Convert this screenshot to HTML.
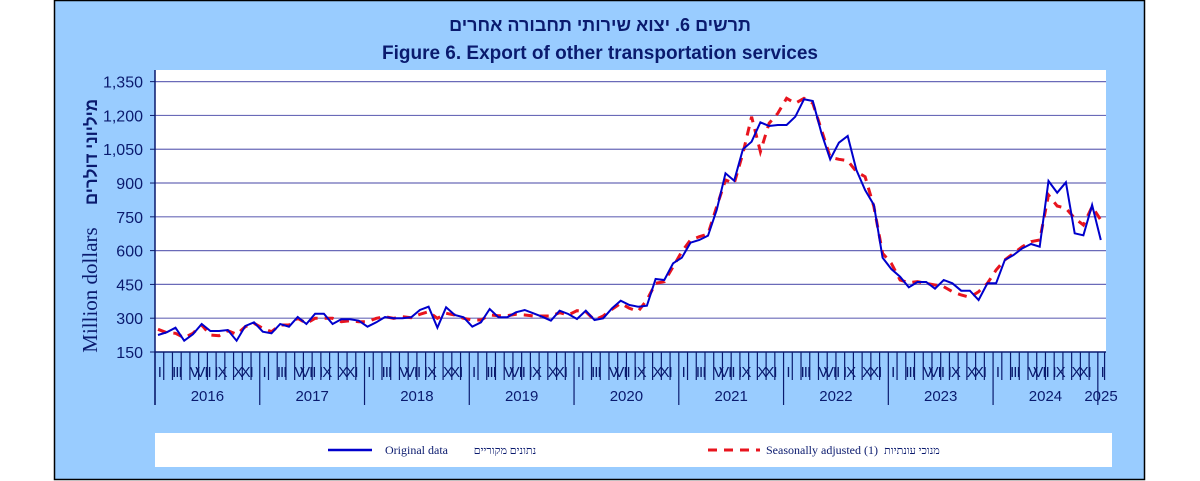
<!DOCTYPE html>
<html><head><meta charset="utf-8">
<style>
html,body{margin:0;padding:0;background:#fff;width:1200px;height:481px;overflow:hidden}
svg{display:block}
</style></head><body>
<svg id="s" width="1200" height="481" xmlns="http://www.w3.org/2000/svg">
<rect x="54.5" y="0.5" width="1090" height="479" fill="#99ccff" stroke="#000" stroke-width="1.5"/>
<text x="600" y="31" text-anchor="middle" font-family="Liberation Sans, sans-serif" font-weight="bold" font-size="18" fill="#0a1a6e">תרשים 6. יצוא שירותי תחבורה אחרים</text>
<text x="600" y="59" text-anchor="middle" font-family="Liberation Sans, sans-serif" font-weight="bold" font-size="19" fill="#0a1a6e">Figure 6. Export of other transportation services</text>
<rect x="155" y="70" width="951" height="282" fill="#fff"/>
<rect x="155" y="433" width="957" height="34" fill="#fff"/>
<g id="g"></g>
<text transform="translate(97,290) rotate(-90)" text-anchor="middle" font-family="Liberation Serif, serif" font-size="21" fill="#0a1a6e">Million dollars</text>
<text transform="translate(97,152) rotate(-90)" text-anchor="middle" font-family="Liberation Sans, sans-serif" font-weight="bold" font-size="17" fill="#0a1a6e">מיליוני דולרים</text>
<line x1="328" y1="450" x2="372" y2="450" stroke="#0000cc" stroke-width="2.5"/>
<text x="385" y="454" font-family="Liberation Serif, serif" font-size="12" fill="#0a1a6e">Original data</text>
<text x="505" y="454" font-family="Liberation Serif, serif" font-size="11" fill="#0a1a6e" text-anchor="middle">נתונים מקוריים</text>
<line x1="708" y1="450" x2="760" y2="450" stroke="#e8141e" stroke-width="3" stroke-dasharray="9,7"/>
<text x="766" y="454" font-family="Liberation Serif, serif" font-size="12" fill="#0a1a6e">Seasonally adjusted (1)</text>
<text x="912" y="454" font-family="Liberation Serif, serif" font-size="11" fill="#0a1a6e" text-anchor="middle">מנוכי עונתיות</text>
</svg>
<script>
var g=document.getElementById('g'),h='';
var ticks=[1350,1200,1050,900,750,600,450,300,150];
ticks.forEach(function(v){var y=352-(v-150)*0.2253;
 if(v>150)h+='<line x1="155" y1="'+y+'" x2="1106" y2="'+y+'" stroke="#6a6ab8" stroke-width="1.2"/>';
 h+='<line x1="150" y1="'+y+'" x2="155" y2="'+y+'" stroke="#0a1a6e"/>';
 h+='<text x="143" y="'+(y+6)+'" text-anchor="end" font-family="Liberation Sans, sans-serif" font-size="16" fill="#0a1a6e">'+v.toLocaleString('en-US')+'</text>';});
h+='<line x1="155" y1="70" x2="155" y2="405" stroke="#0a1a6e" stroke-width="1.5"/>';
h+='<line x1="155" y1="352" x2="1106" y2="352" stroke="#0a1a6e" stroke-width="1.5"/>';
var mw=8.73,rom=['I','','III','','V','VII','','IX','','X','XI',''];
for(var i=0;i<=109;i++){var x=155+i*mw+ (i==109?-2:0);
 if(i%12==0){h+='<line x1="'+x+'" y1="352" x2="'+x+'" y2="405" stroke="#0a1a6e" stroke-width="1.2"/>';}
 else h+='<line x1="'+x+'" y1="352" x2="'+x+'" y2="380" stroke="#0a1a6e" stroke-width="1.2"/>';
 if(i<109){var r=rom[i%12];if(r)h+='<text x="'+(x+mw/2)+'" y="377" text-anchor="middle" font-family="Liberation Sans, sans-serif" font-size="15" fill="#0a1a6e" letter-spacing="-1">'+r+'</text>';}
}
for(var k=0;k<9;k++)h+='<text x="'+(155+(k+0.5)*104.76)+'" y="401" text-anchor="middle" font-family="Liberation Sans, sans-serif" font-size="15" fill="#0a1a6e">'+(2016+k)+'</text>';
h+='<text x="1101" y="401" text-anchor="middle" font-family="Liberation Sans, sans-serif" font-size="15" fill="#0a1a6e">2025</text>';
var b=[795,787,773,812,793,762,783,783,780,812,768,757,785,790,762,770,741,762,731,731,762,748,748,752,770,757,741,745,745,742,720,710,773,712,735,742,770,757,717,742,742,727,720,730,740,752,722,732,747,722,750,745,715,692,705,710,707,627,630,580,563,518,510,497,420,310,332,238,215,157,168,165,165,140,88,93,190,268,218,198,300,360,405,563,597,620,652,636,636,656,630,640,662,662,690,640,640,570,555,535,522,530,333,368,337,490,496,405,510];
var r=[778,788,790,803,790,765,795,797,782,793,770,760,775,785,765,765,745,760,745,745,745,755,752,755,755,745,740,745,740,743,733,725,745,730,735,745,750,750,735,737,737,733,735,738,738,738,728,735,722,725,750,738,718,700,715,724,690,640,635,590,545,510,500,492,410,330,340,250,140,245,160,130,85,100,85,100,180,262,268,272,305,320,410,550,580,630,638,635,640,645,650,665,675,682,665,640,600,570,550,530,515,510,375,408,415,445,465,410,450];
function pts(a){return a.map(function(p,i){return (158+i*8.73).toFixed(1)+','+(70+p/3).toFixed(1)}).join(' ')}
h+='<polyline points="'+pts(r)+'" fill="none" stroke="#e8141e" stroke-width="3" stroke-dasharray="9,7"/>';
h+='<polyline points="'+pts(b)+'" fill="none" stroke="#0000cc" stroke-width="2"/>';
g.innerHTML=h;
</script>
</body></html>
